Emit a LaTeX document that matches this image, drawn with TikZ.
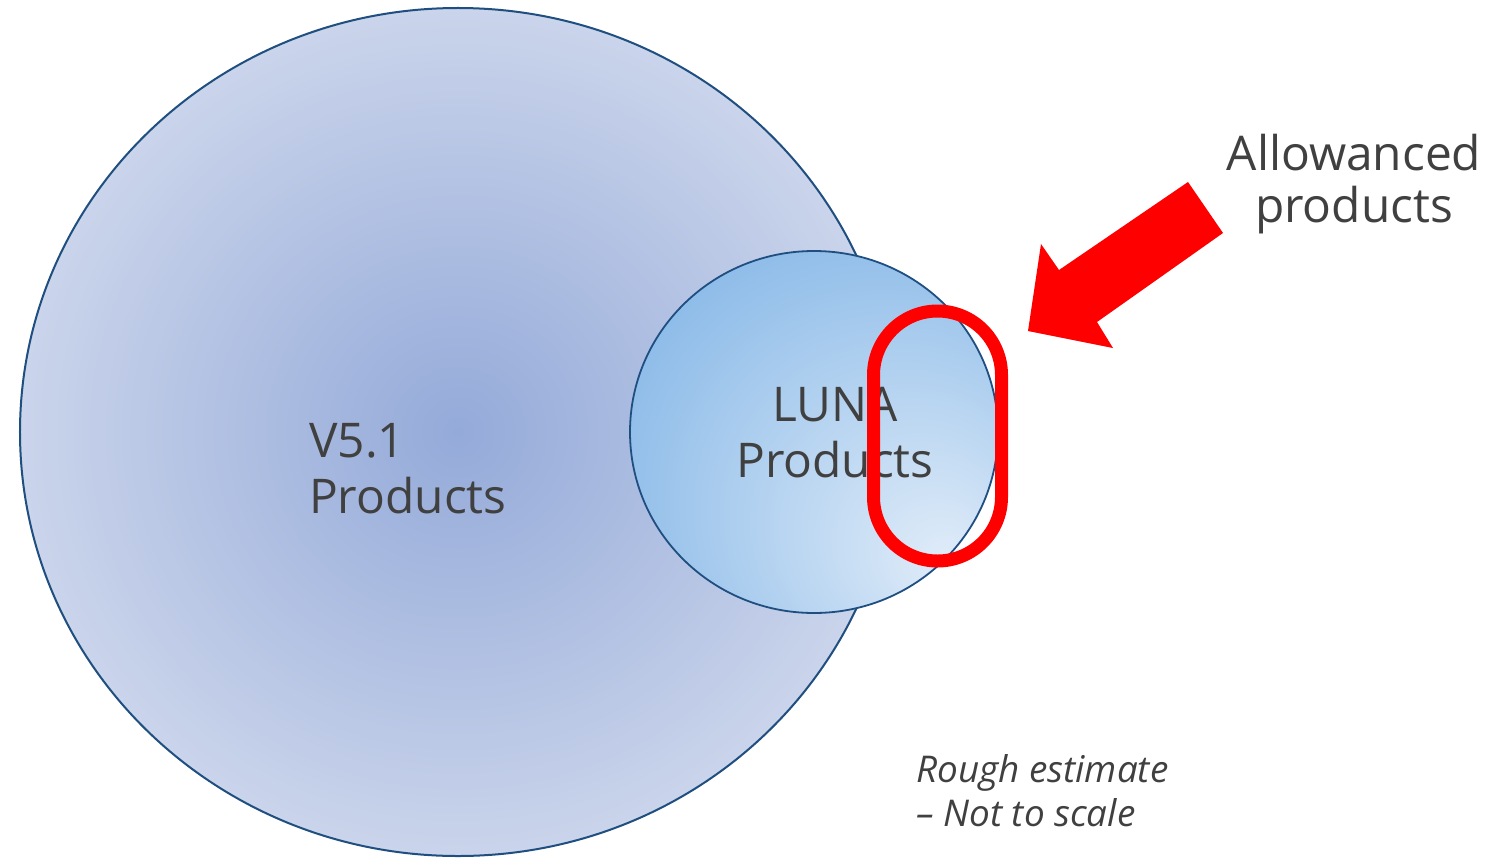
\documentclass[tikz,border=0pt]{standalone}
\usepackage{fontspec}
\setmainfont{Open Sans}
\usetikzlibrary{shapes.geometric}
\definecolor{txt}{HTML}{404040}
\definecolor{edgeblue}{HTML}{1F4E80}
\definecolor{arrred}{HTML}{FF0000}
\pgfdeclareradialshading{bigshade}{\pgfpoint{0bp}{0bp}}{%
  color(0bp)=(rgb,255:red,148;green,170;blue,217);
  color(25bp)=(rgb,255:red,202;green,212;blue,235);
  color(50bp)=(rgb,255:red,202;green,212;blue,235)}
\pgfdeclareradialshading{lunashade}{\pgfpoint{19bp}{-19bp}}{%
  color(0bp)=(rgb,255:red,226;green,237;blue,249);
  color(42bp)=(rgb,255:red,128;green,180;blue,230);
  color(60bp)=(rgb,255:red,128;green,180;blue,230)}
\tikzset{
  label48/.style={text=txt, inner sep=0pt, font=\fontsize{48}{56}\selectfont},
  note/.style={text=txt, inner sep=0pt, align=left, font=\fontsize{37}{44}\selectfont\itshape},
}
\begin{document}
\begin{tikzpicture}[x=1bp,y=-1bp]
\useasboundingbox (0,0) rectangle (1493,857);
\node[ellipse, draw=edgeblue, line width=2bp, shading=bigshade, inner sep=0pt,
      minimum width=876bp, minimum height=848bp] (v51) at (458,432) {};
\node[ellipse, draw=edgeblue, line width=1.8bp, shading=lunashade, inner sep=0pt,
      minimum width=368bp, minimum height=362bp] (luna) at (814,432) {};
\node[label48, align=left, anchor=base west] (v51txt) at (309,513) {V5.1\\Products};
\node[label48, align=center, anchor=base] (lunatxt) at (835,477) {LUNA\\Products};
\node[draw=arrred, line width=13bp, rounded corners=64bp, minimum width=128bp,
      minimum height=250bp, inner sep=0pt] (allow) at (937.5,436) {};
\node[label48, align=center, anchor=base, font=\fontsize{48}{52}\selectfont] (allowtxt) at (1354,222) {Allowanced\\products};
\fill[arrred] (1188,182) -- (1223,233) -- (1097,322) -- (1113,348) -- (1028,331)
  -- (1041,244) -- (1059,270) -- cycle;
\node[note, anchor=base west] (notetxt) at (916,826) {Rough estimate\\– Not to scale};
\end{tikzpicture}
\end{document}
